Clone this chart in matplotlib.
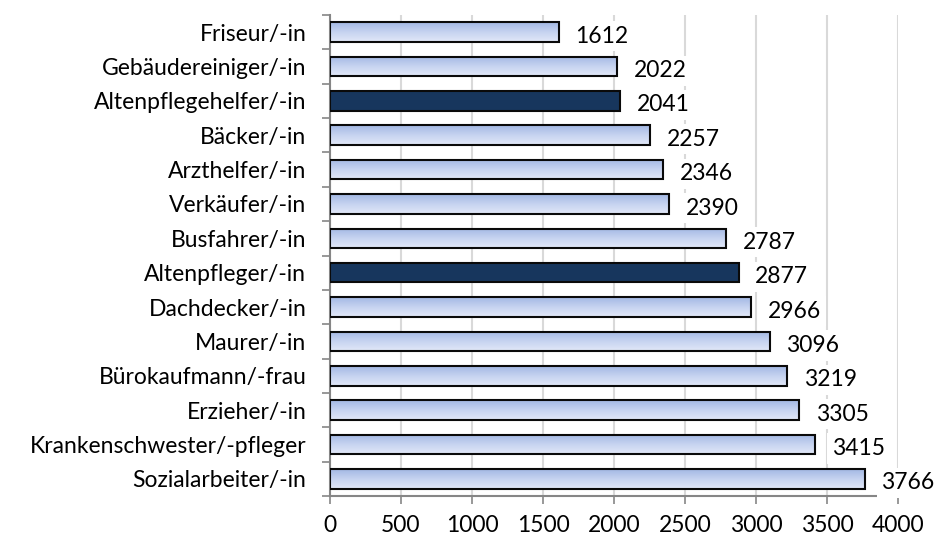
import matplotlib
matplotlib.use("Agg")
import matplotlib.pyplot as plt
import numpy as np
from matplotlib.colors import LinearSegmentedColormap

categories = ["Friseur/-in", "Gebäudereiniger/-in", "Altenpflegehelfer/-in", "Bäcker/-in",
              "Arzthelfer/-in", "Verkäufer/-in", "Busfahrer/-in", "Altenpfleger/-in",
              "Dachdecker/-in", "Maurer/-in", "Bürokaufmann/-frau", "Erzieher/-in",
              "Krankenschwester/-pfleger", "Sozialarbeiter/-in"]
values = [1612, 2022, 2041, 2257, 2346, 2390, 2787, 2877, 2966, 3096, 3219, 3305, 3415, 3766]
highlight = ["Altenpflegehelfer/-in", "Altenpfleger/-in"]
xticks = [0, 500, 1000, 1500, 2000, 2500, 3000, 3500, 4000]

plt.rcParams['font.family'] = ['Lato', 'DejaVu Sans']
FS = 16.5

fig = plt.figure(figsize=(9.37, 5.40), dpi=100)
ax = fig.add_axes([330/937, 1-496/540, (898-330)/937, 481/540])

grad = LinearSegmentedColormap.from_list("g", ["#a3b8e4", "#c6d3f0", "#e2e8f8"])
dark = "#17365d"
h = 0.57
pos = np.arange(len(categories))

for i, (c, v) in enumerate(zip(categories, values)):
    if c in highlight:
        ax.barh(i, v, height=h, color=dark, edgecolor="#0a0a0a", linewidth=1.5, zorder=3)
    else:
        g = np.linspace(0, 1, 64).reshape(-1, 1)
        ax.imshow(g, cmap=grad, aspect="auto", extent=[0, v, i + h/2, i - h/2],
                  origin="upper", zorder=2.8, interpolation="bilinear")
        ax.barh(i, v, height=h, facecolor="none", edgecolor="#0a0a0a", linewidth=1.5, zorder=3)
    ax.annotate(str(v), xy=(v, i), xytext=(12, -1.5), textcoords="offset points",
                ha="left", va="center_baseline", fontsize=FS, color="#000000", zorder=4,
                annotation_clip=False,
                bbox=dict(boxstyle="square,pad=0.2", facecolor="white", edgecolor="none"))

ax.set_xlim(0, 4000)
ax.set_ylim(len(categories) - 0.5, -0.5)
ax.set_xticks(xticks)
ax.set_xticklabels([str(t) for t in xticks], fontsize=FS)
ax.set_yticks(pos)
ax.set_yticklabels(categories, fontsize=FS)
ax.tick_params(axis="y", which="major", length=0, pad=17)
ax.set_yticks(np.arange(-0.5, len(categories)), minor=True)
ax.tick_params(axis="y", which="minor", length=6, width=1.2, color="#868686")
ax.tick_params(axis="x", which="major", length=6, width=1.2, color="#868686", pad=8)

ax.grid(axis="x", color="#d9d9d9", linewidth=1.5, zorder=0)
ax.set_axisbelow(True)
for s in ["top", "right"]:
    ax.spines[s].set_visible(False)
for s in ["left", "bottom"]:
    ax.spines[s].set_color("#868686")
    ax.spines[s].set_linewidth(1.5)

fig.savefig("out.png", dpi=100)
